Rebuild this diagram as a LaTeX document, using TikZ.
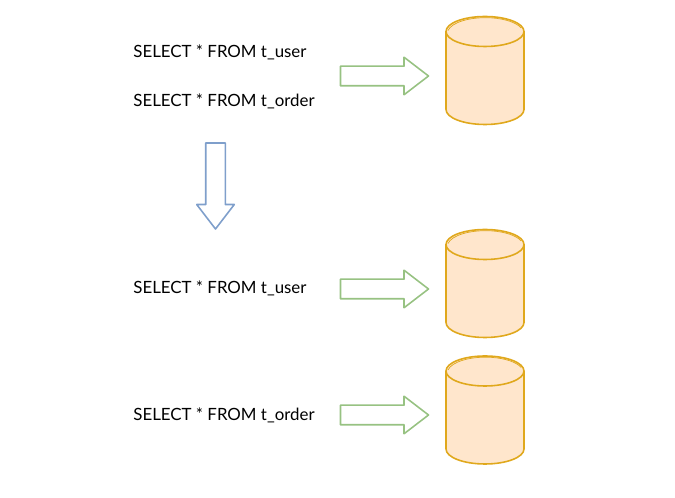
\documentclass[tikz,border=0pt]{standalone}
\usepackage{fontspec}
\setmainfont{Lato}
\usepackage{xcolor}
\usetikzlibrary{shapes,arrows,positioning,calc}
\definecolor{dbfill}{HTML}{FFE6CC}
\definecolor{dbline}{HTML}{E0A81C}
\definecolor{routeline}{HTML}{97C282}
\definecolor{splitline}{HTML}{7F9FCB}
\tikzset{
    sqltext/.style={anchor=west, inner sep=0pt, font=\fontsize{9.6}{11}\selectfont, text=black},
    bigarrow/.style={single arrow, draw, line width=0.9pt, line join=round, inner sep=0.18cm, outer sep=0pt,
        minimum width=0.74cm, minimum height=1.76cm, single arrow head extend=0.18cm,
        single arrow tip angle=75},
    dbshape/.pic={
        \draw[draw=dbline, fill=dbfill, line width=0.9pt, line join=round] (-0.78,0.78)
            arc[start angle=180, end angle=0, x radius=0.78, y radius=0.3] -- (0.78,-0.78)
            arc[start angle=0, end angle=-180, x radius=0.78, y radius=0.3] -- cycle;
        \draw[draw=dbline, line width=0.9pt] (-0.78,0.78)
            arc[start angle=180, end angle=360, x radius=0.78, y radius=0.3];
        \draw[draw=dbline, line width=0.4pt] (-0.74,0.8)
            arc[start angle=170, end angle=20, x radius=0.76, y radius=0.31];
    },
}
\begin{document}
\begin{tikzpicture}
    \useasboundingbox (0,0) rectangle (13.5,9.96);

    % Before the split
    \node[sqltext] (user1) at (2.66,8.92) {SELECT * FROM t\_user};
    \node[sqltext] (order1) at (2.66,7.94) {SELECT * FROM t\_order};
    \node[bigarrow, draw=routeline, anchor=tail] (route1) at (6.81,8.44) {};
    \pic (db1) at (9.7,8.55) {dbshape};

    % Split arrow
    \node[bigarrow, draw=splitline, shape border rotate=270, anchor=tail, minimum height=1.72cm] (split) at (4.31,7.1) {};

    % After the split
    \node[sqltext] (user2) at (2.66,4.2) {SELECT * FROM t\_user};
    \node[bigarrow, draw=routeline, anchor=tail] (route2) at (6.81,4.18) {};
    \pic (db2) at (9.7,4.29) {dbshape};

    \node[sqltext] (order2) at (2.66,1.66) {SELECT * FROM t\_order};
    \node[bigarrow, draw=routeline, anchor=tail] (route3) at (6.81,1.66) {};
    \pic (db3) at (9.7,1.76) {dbshape};
\end{tikzpicture}
\end{document}
